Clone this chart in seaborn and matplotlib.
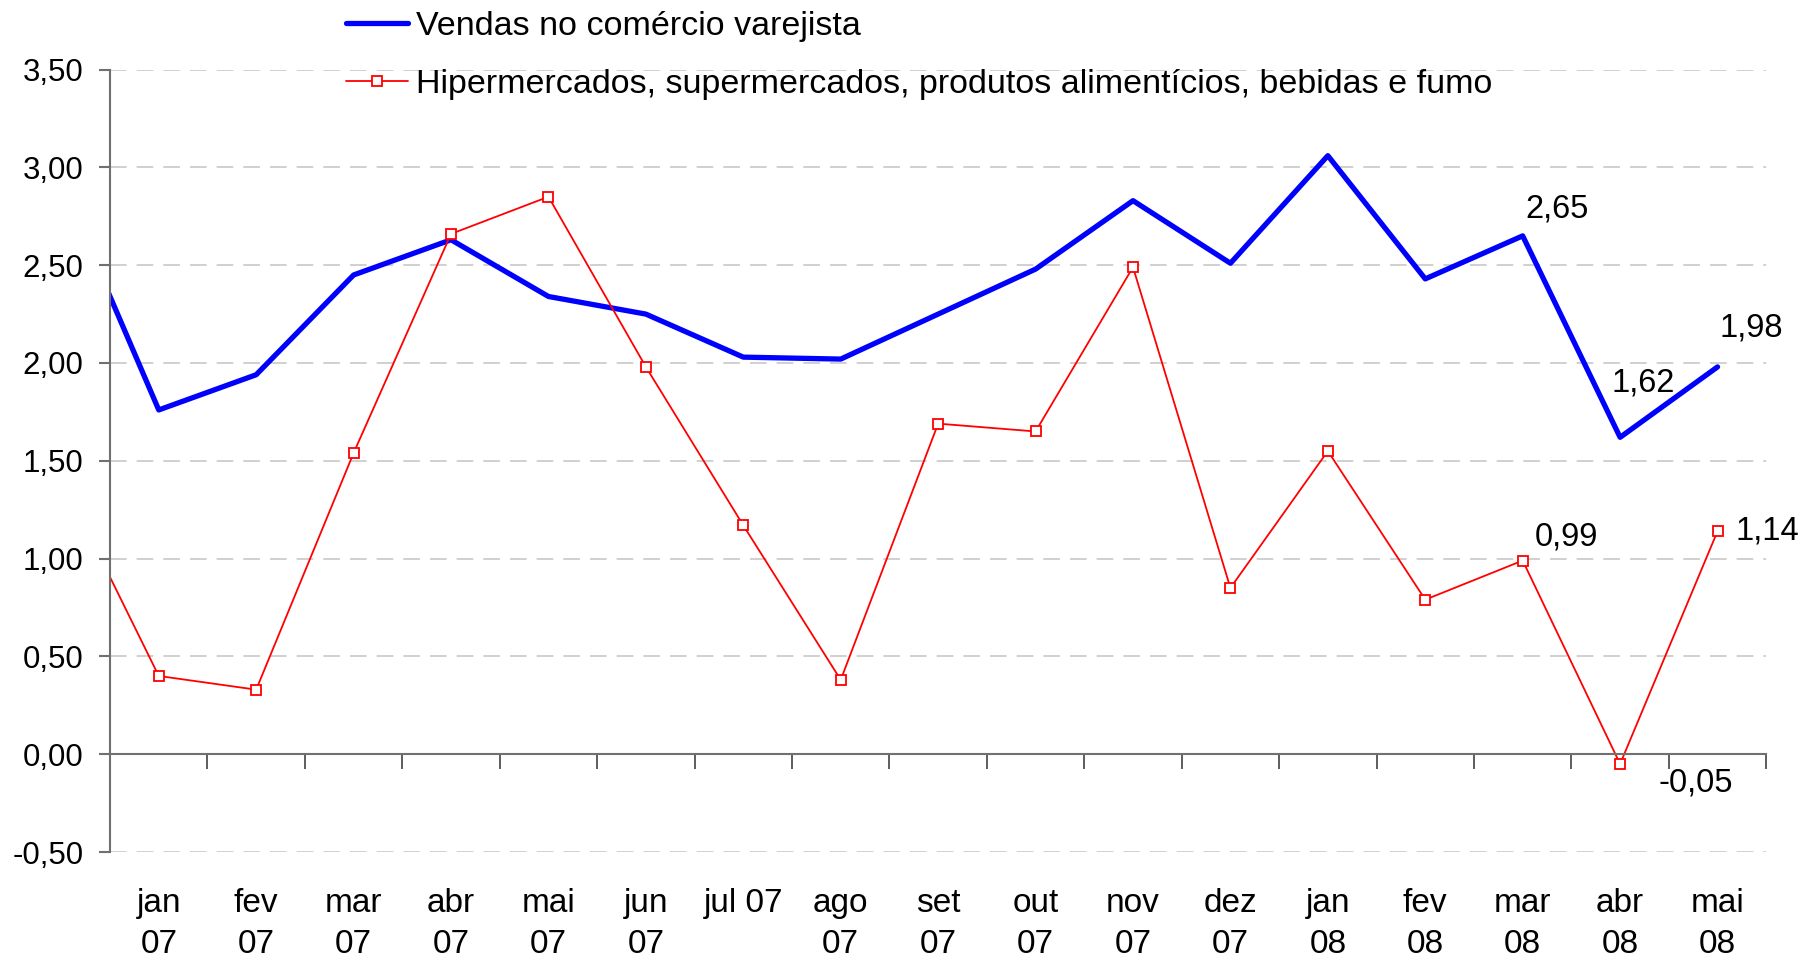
import matplotlib
matplotlib.use('Agg')
import matplotlib.pyplot as plt
import seaborn as sns
import pandas as pd
import numpy as np

# dados mensais (dez 06 fica fora do eixo, só para a linha entrar pela borda)
meses = ['dez\n06', 'jan\n07', 'fev\n07', 'mar\n07', 'abr\n07', 'mai\n07', 'jun\n07', 'jul 07',
         'ago\n07', 'set\n07', 'out\n07', 'nov\n07', 'dez\n07', 'jan\n08', 'fev\n08',
         'mar\n08', 'abr\n08', 'mai\n08']
vendas = [2.92, 1.76, 1.94, 2.45, 2.63, 2.34, 2.25, 2.03, 2.02, 2.25, 2.48, 2.83, 2.51,
          3.06, 2.43, 2.65, 1.62, 1.98]
hiper = [1.41, 0.40, 0.33, 1.54, 2.66, 2.85, 1.98, 1.17, 0.38, 1.69, 1.65, 2.49, 0.85,
         1.55, 0.79, 0.99, -0.05, 1.14]
nome_vendas = 'Vendas no comércio varejista'
nome_hiper = 'Hipermercados, supermercados, produtos alimentícios, bebidas e fumo'

# rótulos de valor: (série, mês, deslocamento em pixels)
rotulos = [('v', 'mar\n08', (34, 27)), ('v', 'abr\n08', (23, 54)), ('v', 'mai\n08', (34, 39)),
           ('h', 'mar\n08', (44, 24)), ('h', 'abr\n08', (76, -19)), ('h', 'mai\n08', (50, 0))]

df = pd.DataFrame({'pos': np.arange(len(meses)) - 1, 'mes': meses,
                   'vendas': vendas, 'hiper': hiper})

sns.set_style('white')
plt.rcParams['font.family'] = ['Liberation Sans', 'DejaVu Sans']
plt.rcParams['text.color'] = 'black'
plt.rcParams['xtick.labelcolor'] = 'black'
plt.rcParams['ytick.labelcolor'] = 'black'

fig = plt.figure(figsize=(18.16, 9.6), dpi=100)
ax = fig.add_axes([0.0606, 0.1125, 0.912, 0.815])

sns.lineplot(data=df, x='pos', y='vendas', ax=ax, color='#0000FF', linewidth=3.8,
             label=nome_vendas)
sns.lineplot(data=df, x='pos', y='hiper', ax=ax, color='#FF0000', linewidth=1.3,
             marker='s', markersize=7, markerfacecolor='white', markeredgecolor='#FF0000',
             markeredgewidth=1.3, label=nome_hiper)

ax.set_xlim(-0.5, 16.5)
ax.set_ylim(-0.5, 3.5)
ax.set_xlabel('')
ax.set_ylabel('')

yt = np.arange(-0.5, 3.51, 0.5)
ax.set_yticks(yt)
ax.set_yticklabels([f'{v:.2f}'.replace('.', ',') for v in yt], fontsize=22.5)
ax.yaxis.grid(True, color='#C8C8C8', linestyle=(0, (10, 6)), linewidth=1.2)
ax.tick_params(axis='y', direction='out', length=8, width=1.5, color='#707070', left=True,
               pad=11, labelcolor='black')

ax.spines['bottom'].set_position(('data', 0))
for s in ['top', 'right']:
    ax.spines[s].set_visible(False)
for s in ['left', 'bottom']:
    ax.spines[s].set_color('#707070')
    ax.spines[s].set_linewidth(1.5)

ax.set_xticks(df['pos'][1:])
ax.set_xticklabels(df['mes'][1:], fontsize=24, linespacing=1.45)
ax.set_xticks(np.arange(-0.5, 16.6, 1), minor=True)
ax.tick_params(axis='x', which='major', length=0, pad=96, labelcolor='black')
ax.tick_params(axis='x', which='minor', direction='out', length=11, width=1.3,
               color='#505050', bottom=True)

for serie, mes, (dx, dy) in rotulos:
    linha = df[df['mes'] == mes].iloc[0]
    val = linha['vendas'] if serie == 'v' else linha['hiper']
    ax.annotate(f'{val:.2f}'.replace('.', ','), (linha['pos'], val), xytext=(dx, dy),
                textcoords='offset pixels', ha='center', va='center', fontsize=23.5,
                color='black')

h, l = ax.get_legend_handles_labels()
ax.get_legend().remove()
fig.legend(h, l, loc='upper left', bbox_to_anchor=(0.187, 0.996), frameon=False, fontsize=24.5,
           handlelength=1.8, handletextpad=0.24, labelspacing=0.8, borderpad=0.2,
           borderaxespad=0)

plt.savefig('out.png', dpi=100)
